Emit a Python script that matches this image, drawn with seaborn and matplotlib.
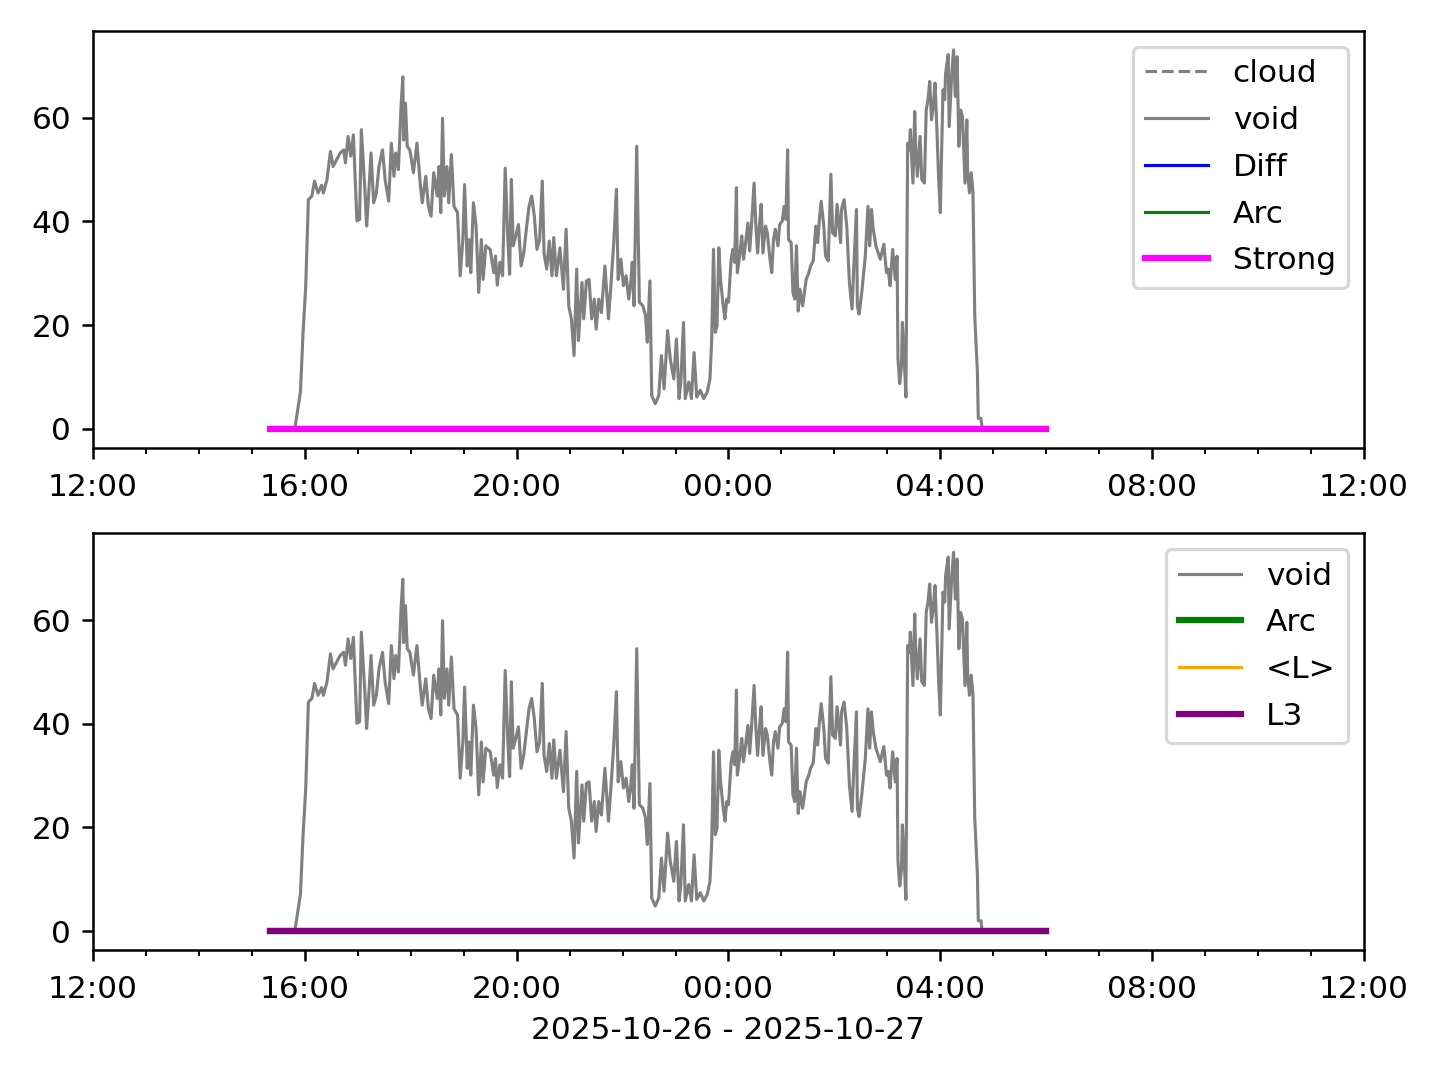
import matplotlib
matplotlib.use("Agg")
import matplotlib.pyplot as plt
import matplotlib.dates as mdates
import numpy as np
import pandas as pd
import seaborn as sns

# void signal
void_times = ["15:49","15:55","15:58","16:01","16:04","16:08","16:11","16:15","16:19","16:21",
              "16:25","16:29","16:32","16:36","16:40","16:44","16:46","16:49","16:52","16:55",
              "16:59","17:02","17:04","17:08","17:10","17:12","17:15","17:18","17:21","17:24",
              "17:28","17:31","17:35","17:38","17:41","17:43","17:46","17:49","17:51","17:52",
              "17:54","17:56","17:59","18:03","18:07","18:11","18:13","18:17","18:20","18:23",
              "18:26","18:30","18:32","18:34","18:36","18:38","18:41","18:43","18:46","18:49",
              "18:53","18:56","18:59","19:01","19:04","19:06","19:08","19:11","19:14","19:17",
              "19:20","19:22","19:25","19:30","19:34","19:36","19:38","19:41","19:44","19:47",
              "19:50","19:52","19:54","19:56","19:59","20:02","20:05","20:08","20:11","20:14",
              "20:17","20:20","20:23","20:26","20:29","20:31","20:34","20:37","20:40","20:42",
              "20:45","20:49","20:53","20:56","20:59","21:02","21:05","21:08","21:10","21:14",
              "21:16","21:19","21:22","21:25","21:28","21:30","21:33","21:36","21:40","21:44",
              "21:47","21:50","21:53","21:55","21:58","22:01","22:04","22:07","22:09","22:11",
              "22:13","22:16","22:19","22:23","22:26","22:28","22:31","22:33","22:37","22:41",
              "22:44","22:47","22:51","22:54","22:58","23:01","23:04","23:06","23:09","23:11",
              "23:15","23:18","23:21","23:24","23:28","23:32","23:36","23:39","23:41","23:43",
              "23:45","23:47","23:49","23:51","23:54","23:56","23:58","00:00","00:03","00:05",
              "00:07","00:09","00:10","00:13","00:15","00:17","00:19","00:22","00:24","00:26",
              "00:29","00:31","00:33","00:35","00:37","00:39","00:42","00:44","00:47","00:49",
              "00:51","00:53","00:56","00:58","01:01","01:03","01:05","01:07","01:08","01:11",
              "01:13","01:15","01:17","01:19","01:21","01:24","01:26","01:28","01:31","01:33",
              "01:36","01:39","01:41","01:43","01:45","01:48","01:50","01:53","01:56","01:58",
              "02:01","02:03","02:07","02:08","02:11","02:14","02:17","02:20","02:22","02:25",
              "02:26","02:28","02:31","02:35","02:38","02:40","02:42","02:44","02:47","02:52",
              "02:56","02:59","03:01","03:03","03:06","03:09","03:11","03:12","03:14","03:16",
              "03:17","03:19","03:21","03:23","03:25","03:26","03:29","03:31","03:32","03:34",
              "03:37","03:39","03:42","03:44","03:46","03:48","03:50","03:52","03:54","03:56",
              "03:58","04:00","04:03","04:05","04:06","04:09","04:10","04:13","04:15","04:17",
              "04:19","04:21","04:23","04:25","04:28","04:30","04:31","04:33","04:35","04:37",
              "04:39","04:42","04:43","04:46","04:47","04:48"]
void_vals = [0.4,7.1,18.6,27.5,44.2,44.9,47.8,45.5,47.0,45.5,
             48.0,53.5,50.6,51.9,53.2,53.8,51.3,56.4,52.6,56.7,
             40.1,40.4,57.7,46.2,39.1,44.2,53.2,43.6,45.5,50.6,
             53.8,48.0,43.9,55.1,48.7,53.2,50.0,62.2,67.9,55.7,
             62.8,54.5,53.8,49.4,55.1,46.8,43.6,48.7,42.9,41.0,
             49.4,44.9,50.6,41.7,59.9,44.9,50.6,43.6,52.9,42.9,
             41.7,29.5,36.5,47.1,31.4,36.5,30.1,43.6,39.1,26.3,
             36.5,28.8,35.3,34.6,30.1,33.3,27.7,32.1,29.5,50.3,
             36.5,29.8,48.1,35.3,37.2,39.4,31.4,33.9,38.5,42.9,
             44.9,41.0,34.6,36.5,47.8,33.9,30.8,36.2,29.5,36.9,
             29.5,34.9,26.9,38.5,23.7,21.2,14.1,30.8,17.0,28.2,
             21.2,28.5,28.8,21.2,25.0,19.2,25.0,22.4,31.4,21.2,
             28.2,35.9,46.2,28.8,32.7,27.6,29.5,25.0,27.6,32.1,
             23.7,54.5,24.4,23.7,21.8,16.7,28.5,6.4,4.8,6.4,
             14.1,7.7,18.9,13.5,9.6,17.3,5.8,9.0,20.5,5.8,
             9.0,5.8,14.7,6.1,7.4,5.8,7.1,9.6,17.3,34.6,
             18.6,19.9,34.9,28.8,23.7,21.2,25.0,24.4,32.7,34.6,
             32.1,46.5,30.1,33.9,37.2,32.7,35.3,39.7,34.3,39.1,
             47.4,39.1,33.9,39.1,43.3,33.9,39.1,37.8,32.7,30.1,
             36.5,38.5,35.3,39.4,40.1,42.9,40.4,53.8,36.5,35.9,
             26.3,25.0,35.3,22.7,26.9,23.7,26.3,28.8,30.1,31.4,
             32.4,39.1,35.9,40.4,43.9,39.1,33.3,32.4,49.1,37.8,
             37.2,43.3,35.9,42.3,44.2,39.1,28.2,23.1,31.4,42.3,
             23.7,22.1,26.3,33.3,42.9,35.3,42.3,38.5,35.3,32.7,
             35.6,30.1,30.8,27.6,34.6,28.8,33.3,13.5,8.7,12.0,
             20.5,14.1,6.1,55.1,53.8,57.7,47.4,61.2,54.5,48.7,
             56.4,48.1,47.4,61.5,63.5,67.0,59.6,62.2,66.7,58.3,
             48.7,41.7,65.4,63.5,68.6,72.2,58.3,68.6,73.1,64.1,
             71.8,54.5,61.5,60.3,47.4,59.6,49.4,45.5,49.4,45.5,
             21.8,11.0,2.0,2.0,0.6,0.0]

# flat (zero) series: Diff, Arc, Strong, <L>, L3
flat_times = ["15:20", "06:00"]
flat_vals = [0.0, 0.0]

x_range = ["12:00", "12:00+"]
xlabel = "2025-10-26 - 2025-10-27"


def to_dt(s):
    base = pd.Timestamp("2025-10-26")
    if s.endswith("+"):
        return base + pd.Timedelta(days=1, hours=12)
    h, m = s.split(":")
    t = base + pd.Timedelta(hours=int(h), minutes=int(m))
    if int(h) < 12:
        t = t + pd.Timedelta(days=1)
    return t


void = pd.DataFrame({"time": [to_dt(t) for t in void_times], "value": void_vals})
flat = pd.DataFrame({"time": [to_dt(t) for t in flat_times], "value": flat_vals})

fig, (ax1, ax2) = plt.subplots(2, 1, figsize=(6.4, 4.8), dpi=225)
fig.subplots_adjust(left=0.0646, right=0.9472, top=0.9713, bottom=0.1204, hspace=0.206)

# top panel
ax1.plot([], [], color="gray", ls="--", lw=1, label="cloud")
sns.lineplot(data=void, x="time", y="value", ax=ax1, color="gray", lw=1, label="void")
sns.lineplot(data=flat, x="time", y="value", ax=ax1, color="blue", lw=1, label="Diff")
sns.lineplot(data=flat, x="time", y="value", ax=ax1, color="green", lw=1, label="Arc")
sns.lineplot(data=flat, x="time", y="value", ax=ax1, color="magenta", lw=2, label="Strong")
ax1.legend(loc="upper right", labelspacing=0.57)

# bottom panel
sns.lineplot(data=void, x="time", y="value", ax=ax2, color="gray", lw=1, label="void")
sns.lineplot(data=flat, x="time", y="value", ax=ax2, color="green", lw=2, label="Arc")
sns.lineplot(data=flat, x="time", y="value", ax=ax2, color="orange", lw=1, label="<L>")
sns.lineplot(data=flat, x="time", y="value", ax=ax2, color="purple", lw=2, label="L3")
ax2.legend(loc="upper right", labelspacing=0.57)

for ax in (ax1, ax2):
    ax.set_xlim(to_dt(x_range[0]), to_dt(x_range[1]))
    ax.xaxis.set_major_locator(mdates.HourLocator(byhour=range(0, 24, 4)))
    ax.xaxis.set_minor_locator(mdates.HourLocator())
    ax.xaxis.set_major_formatter(mdates.DateFormatter("%H:%M"))
    ax.tick_params(axis="x", which="major", pad=4.5)
    ax.set_ylabel("")
    ax.set_xlabel("")
ax2.set_xlabel(xlabel)

plt.savefig("out.png")
